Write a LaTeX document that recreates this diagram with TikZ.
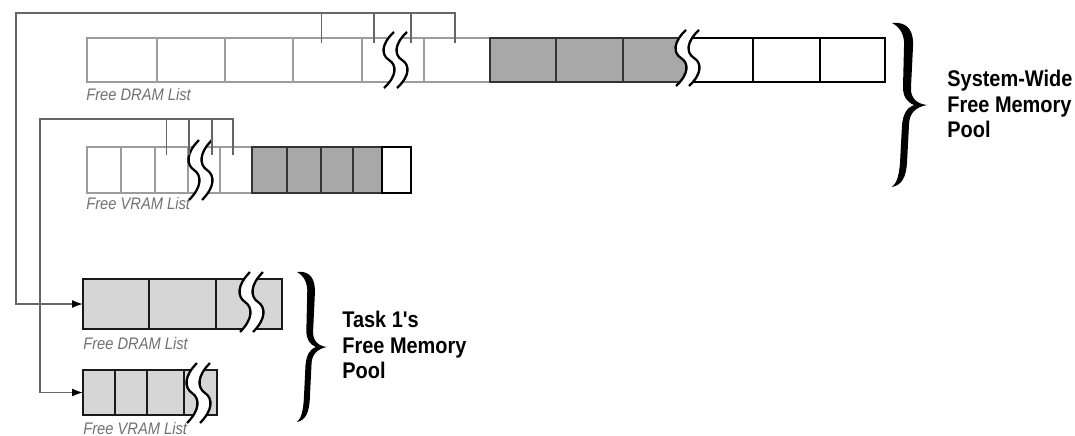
\documentclass[tikz,border=0pt]{standalone}
\usepackage{fontspec}
\setmainfont{Liberation Sans}
\newfontfamily\narrowfont[FakeStretch=0.88]{Liberation Sans}
\usepackage{tikz}
\usetikzlibrary{arrows.meta, calc, fit}
\definecolor{cellgray}{HTML}{9C9C9C}
\definecolor{usedgray}{HTML}{A8A8A8}
\definecolor{taskgray}{HTML}{D6D6D6}
\definecolor{linkgray}{HTML}{666666}
\definecolor{labelgray}{HTML}{707070}

\begin{document}
\begin{tikzpicture}[
  x=0.02cm, y=-0.02cm,
  lite/.style={rectangle, draw=cellgray, line width=0.8pt, inner sep=0pt, outer sep=0pt},
  used/.style={lite, draw=black!80, fill=usedgray, line width=1pt},
  free/.style={lite, draw=black, line width=0.9pt},
  task/.style={lite, draw=black!90, fill=taskgray, line width=1pt},
  link/.style={draw=linkgray, line width=0.9pt},
  arrow/.style={link, -{Latex[length=2.2mm, width=1.6mm, color=black]}},
  listlabel/.style={anchor=west, inner sep=0pt, text=labelgray, font=\narrowfont\itshape\fontsize{9.5}{10}\selectfont},
  pool/.style={anchor=west, align=left, inner sep=0pt, font=\narrowfont\bfseries\fontsize{12.9}{14.4}\selectfont},
  brk/.pic={
    \fill[white] (5,-28) .. controls (-8,-16) and (-8,-5) .. (0,0) .. controls (8,5) and (8,16) .. (-5,28)
      -- (8,28) .. controls (21,16) and (21,5) .. (13,0) .. controls (5,-5) and (5,-16) .. (18,-28) -- cycle;
    \draw[line width=1.3pt] (5,-28) .. controls (-8,-16) and (-8,-5) .. (0,0) .. controls (8,5) and (8,16) .. (-5,28);
    \draw[line width=1.3pt] (18,-28) .. controls (5,-16) and (5,-5) .. (13,0) .. controls (21,5) and (21,16) .. (8,28);
  },
  curly/.pic={
    \fill[black] (0,-82) .. controls (17,-84) and (22,-72) .. (21,-58) -- (19,-18) .. controls (18,-6) and (26,-1) .. (35,0)
      .. controls (24,2) and (17,8) .. (17,20) -- (15,58) .. controls (14,72) and (10,80) .. (0,82)
      .. controls (5,78) and (7,70) .. (8,58) -- (10,20) .. controls (11,8) and (16,2) .. (22,0)
      .. controls (15,-3) and (11,-8) .. (11,-18) -- (12,-58) .. controls (13,-70) and (8,-78) .. (0,-82) -- cycle;
  }
]
  \useasboundingbox (0,0) rectangle (1075,436);

  % system-wide DRAM list
  \foreach \n/\a/\b in {d1/87/157, d2/157/225, d3/225/293, d4/293/362, d5/362/424, d6/424/490}
    \node[lite, fit={(\a,38) (\b,82)}] (\n) {};
  \foreach \n/\a/\b in {d7/490/556, d8/556/623, d9/623/687}
    \node[used, fit={(\a,38) (\b,82)}] (\n) {};
  \foreach \n/\a/\b in {d10/687/753, d11/753/820, d12/820/885}
    \node[free, fit={(\a,38) (\b,82)}] (\n) {};
  \pic at (389,60) {brk};
  \pic at (681,58) {brk};
  \node[listlabel] (dlabel) at (86,95) {Free DRAM List};

  % system-wide VRAM list
  \foreach \n/\a/\b in {v1/87/121, v2/121/155, v3/155/188, v4/188/220, v5/220/252}
    \node[lite, fit={(\a,147) (\b,193)}] (\n) {};
  \foreach \n/\a/\b in {v6/252/287, v7/287/321, v8/321/353, v9/353/382}
    \node[used, fit={(\a,147) (\b,193)}] (\n) {};
  \node[free, fit={(382,147) (411,193)}] (v10) {};
  \pic[yscale=1.07] at (194,170) {brk};
  \node[listlabel] (vlabel) at (86,204) {Free VRAM List};

  % task 1 lists
  \foreach \n/\a/\b in {t1/83/149, t2/149/216, t3/216/282}
    \node[task, fit={(\a,279) (\b,329)}] (\n) {};
  \pic[yscale=1.07] at (245,302) {brk};
  \node[listlabel] (tdlabel) at (83,344) {Free DRAM List};

  \foreach \n/\a/\b in {u1/83/115, u2/115/147, u3/147/184, u4/184/217}
    \node[task, fit={(\a,370) (\b,415)}] (\n) {};
  \pic[yscale=1.07] at (192,393) {brk};
  \node[listlabel] (tvlabel) at (83,429) {Free VRAM List};

  % links
  \coordinate (dtop) at (16,13);
  \foreach \n/\dx in {d4/-6, d5/-19, d5/18}
    \draw[link] ($(\n.north)+(\dx,5)$) -- ++(0,-30);
  \draw[arrow] ($(d6.north)+(-2,5)$) |- (dtop) |- (t1.west);

  \coordinate (vtop) at (40,119);
  \foreach \n/\dx in {v3/-5, v4/-15, v4/8}
    \draw[link] ($(\n.north)+(\dx,8)$) -- ++(0,-36);
  \draw[arrow] ($(v5.north)+(-3,8)$) |- (vtop) |- (u1.west);

  % pools
  \pic at (892,105) {curly};
  \node[pool] (syspool) at (947,104) {System-Wide\\Free Memory\\Pool};
  \pic[xscale=0.85, yscale=0.915] at (297,347) {curly};
  \node[pool] (taskpool) at (342,345) {Task 1's\\Free Memory\\Pool};
\end{tikzpicture}
\end{document}
